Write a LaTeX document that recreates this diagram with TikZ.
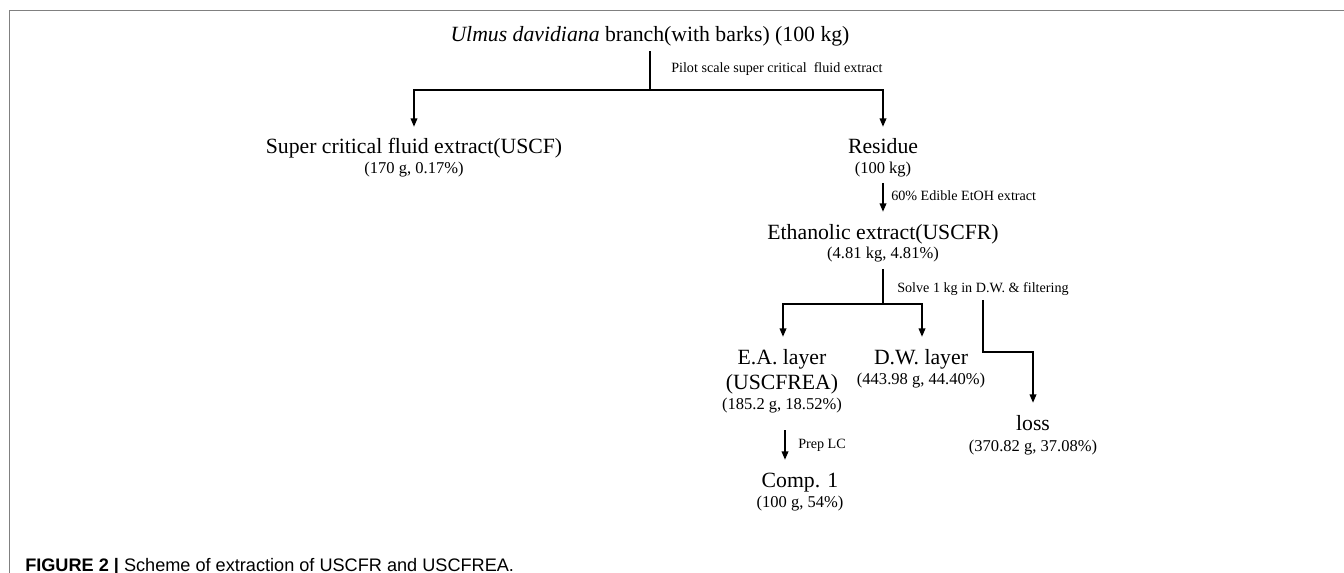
\documentclass[tikz,border=0pt]{standalone}
\usepackage{fontspec}
\setmainfont{Liberation Serif}
\newfontfamily\capfont{Liberation Sans}
\usetikzlibrary{arrows.meta}
\tikzset{
  mainlbl/.style={anchor=base, inner sep=0pt, font=\fontsize{16.3}{18}\selectfont},
  sublbl/.style={anchor=base, inner sep=0pt, font=\fontsize{12.4}{14}\selectfont},
  annot/.style={anchor=base west, inner sep=0pt, font=\fontsize{10.6}{12}\selectfont},
  conn/.style={line width=1.6pt, line cap=rect},
  arr/.style={line width=1.6pt, -{Triangle[length=6.5pt,width=4.8pt]}},
  framel/.style={draw=black!50, line width=1.1pt}
}
\begin{document}
\begin{tikzpicture}[x=0.75pt,y=-0.75pt]
\useasboundingbox (0,0) rectangle (1344,573);
% frame
\draw[framel] (1344,10.5) -- (9.5,10.5) -- (9.5,573);
% nodes
\node[mainlbl] (title) at (650,42) {\textit{Ulmus davidiana} branch(with barks) (100 kg)};
\node[mainlbl] (uscf) at (414,154) {Super critical fluid extract(USCF)};
\node[sublbl] (uscfv) at (414,174) {(170 g, 0.17\%)};
\node[mainlbl] (res) at (883,154) {Residue};
\node[sublbl] (resv) at (883,174) {(100 kg)};
\node[mainlbl] (eth) at (883,240) {Ethanolic extract(USCFR)};
\node[sublbl] (ethv) at (883,259) {(4.81 kg, 4.81\%)};
\node[mainlbl] (ea) at (782,364) {E.A. layer};
\node[mainlbl] (ea2) at (782,389) {(USCFREA)};
\node[sublbl] (eav) at (782,409) {(185.2 g, 18.52\%)};
\node[mainlbl] (dw) at (921,364) {D.W. layer};
\node[sublbl] (dwv) at (921,384) {(443.98 g, 44.40\%)};
\node[mainlbl] (loss) at (1033,430) {loss};
\node[sublbl] (lossv) at (1033,451) {(370.82 g, 37.08\%)};
\node[mainlbl] (comp) at (800,487) {Comp. 1};
\node[sublbl] (compv) at (800,507) {(100 g, 54\%)};
% annotations
\node[annot] (a1) at (671,73) {Pilot scale super critical\ \ fluid extract};
\node[annot] (a2) at (891,201) {60\% Edible EtOH extract};
\node[annot] (a3) at (897,293) {Solve 1 kg in D.W. \& filtering};
\node[annot] (a4) at (798,448) {Prep LC};
% coordinates
\coordinate (t0) at (650,52);
\coordinate (t1) at (650,90);
\coordinate (uscfin) at (414,127);
\coordinate (resin) at (883,127);
\coordinate (resout) at (883,183);
\coordinate (ethin) at (883,212);
\coordinate (eth0) at (883,270);
\coordinate (eth1) at (883,304);
\coordinate (eain) at (783,337);
\coordinate (dwin) at (922,337);
\coordinate (l0) at (983,300);
\coordinate (l1) at (983,352);
\coordinate (l2) at (1033,352);
\coordinate (lossin) at (1033,403);
\coordinate (eaout) at (785,430);
\coordinate (compin) at (785,460);
% connectors
\draw[conn] (t0) -- (t1);
\draw[arr] (t1) -| (uscfin);
\draw[arr] (t1) -| (resin);
\draw[arr] (resout) -- (ethin);
\draw[conn] (eth0) -- (eth1);
\draw[arr] (eth1) -| (eain);
\draw[arr] (eth1) -| (dwin);
\draw[arr] (l0) -- (l1) -- (l2) -- (lossin);
\draw[arr] (eaout) -- (compin);
% caption
\node[anchor=base west, inner sep=0pt, font=\capfont\fontsize{13.6}{15}\selectfont] (cap) at (25,571) {\textbf{FIGURE 2 |} Scheme of extraction of USCFR and USCFREA.};
\end{tikzpicture}
\end{document}
